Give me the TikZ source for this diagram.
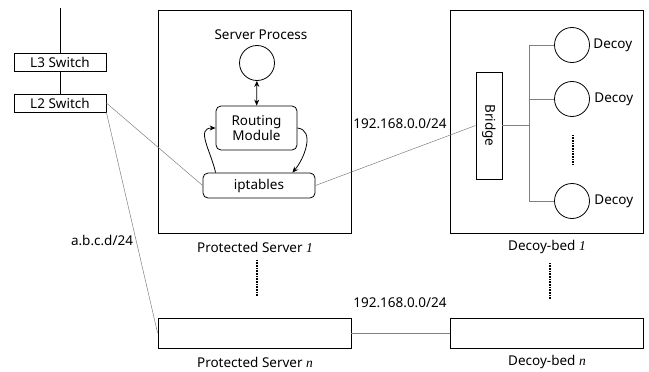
\documentclass[tikz,border=0pt]{standalone}
\usepackage{fontspec}
\setmainfont{Noto Sans}
\newfontfamily\idxfont{Liberation Serif}
\usetikzlibrary{positioning, arrows.meta}
\newcommand{\idx}[1]{{\idxfont\itshape #1}}

\begin{document}
\begin{tikzpicture}[x=1pt, y=-1pt, >={Stealth[length=6pt, width=5pt]},
  font=\fontsize{13.5}{15}\selectfont,
  box/.style={draw, line width=0.8pt, inner sep=0pt},
  sw/.style={box, minimum width=92, minimum height=18},
  rbox/.style={box, rounded corners=5pt},
  proc/.style={draw, line width=0.8pt, circle, minimum size=35, inner sep=0pt},
  net/.style={draw=gray, line width=0.5pt},
  vdots/.style={line width=2pt, dash pattern=on 0.8pt off 0.8pt}]
\useasboundingbox (0,0) rectangle (649,372);
% Switches
\coordinate (uplink) at (60,8);
\node[sw] (l3) at (60,62.5) {L3 Switch};
\node[sw] (l2) at (60,103) {L2 Switch};
\draw[line width=0.8pt] (uplink) -- (l3) (l3) -- (l2);
% Protected server 1
\node[box, minimum width=193, minimum height=223] (ps1) at (254.5,121.5) {};
\node (splbl) at (261,35) {Server Process};
\node[proc] (srv) at (257,63) {};
\node[rbox, minimum width=81, minimum height=44, align=center] (rm) at (256.5,128) {Routing\\Module};
\node[rbox, minimum width=112, minimum height=25] (ipt) at (259,185.5) {iptables};
\draw[<->, line width=0.8pt] (srv) -- (rm);
\draw[->, line width=0.8pt] ([xshift=13]ipt.north west) .. controls +(-5,-22) and +(-20,0) .. (rm.west);
\draw[->, line width=0.8pt] (rm.east) .. controls +(18,2) and +(12,-14) .. ([xshift=-23]ipt.north east);
\node (ps1lbl) at (255,247) {Protected Server \idx{1}};
% Decoy-bed 1
\node[box, minimum width=193, minimum height=223] (db1) at (546.5,121.5) {};
\node[box, rotate=-90, minimum width=107, minimum height=26] (br) at (489,125.5) {Bridge};
\node[proc] (d1) at (572,45) {};
\node[proc] (d2) at (572,99) {};
\node[proc] (d3) at (572,201) {};
\node[right=0pt of d1] (d1lbl) {Decoy};
\node[right=1pt of d2] (d2lbl) {Decoy};
\node[right=1pt of d3] (d3lbl) {Decoy};
\coordinate (trunk) at (529,125.5);
\draw[net] (br.north) -- (trunk);
\draw[net] (trunk |- d1) -- (trunk |- d3);
\draw[net] (trunk |- d1) -- (d1);
\draw[net] (trunk |- d2) -- (d2);
\draw[net] (trunk |- d3) -- (d3);
\coordinate (dd1) at (573,135);
\coordinate (dd2) at (573,164);
\draw[vdots] (dd1) -- (dd2);
\node (db1lbl) at (547,247) {Decoy-bed \idx{1}};
% Server n / decoy-bed n
\node[box, minimum width=193, minimum height=30] (psn) at (254.5,333) {};
\node[box, minimum width=193, minimum height=30] (dbn) at (546.5,333) {};
\node (psnlbl) at (255,362) {Protected Server \idx{n}};
\node (dbnlbl) at (547,362) {Decoy-bed \idx{n}};
\coordinate (pd1) at (257,260);
\coordinate (pd2) at (257,296);
\coordinate (bd1) at (550,263);
\coordinate (bd2) at (550,299);
\draw[vdots] (pd1) -- (pd2);
\draw[vdots] (bd1) -- (bd2);
% Links
\draw[net] (l2.east) -- (ipt.west);
\draw[net] (l2.south east) -- (psn.west);
\draw[net] (ipt.east) -- (br.south);
\draw[net] (psn) -- (dbn);
\node (netA) at (102,240) {a.b.c.d/24};
\node (netB) at (400,124) {192.168.0.0/24};
\node (netC) at (400,303) {192.168.0.0/24};
\end{tikzpicture}
\end{document}
